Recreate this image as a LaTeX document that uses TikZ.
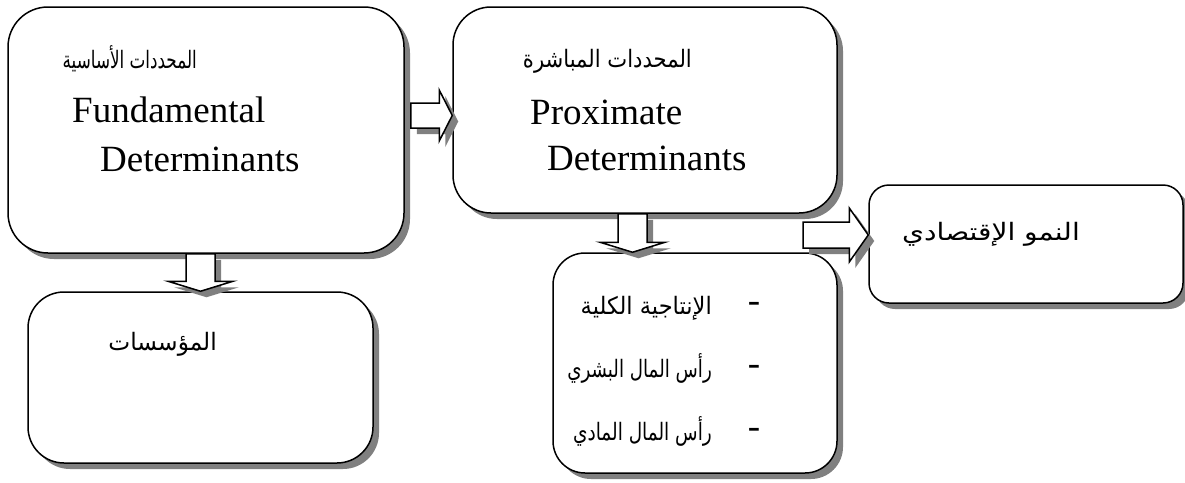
\documentclass[tikz,border=0pt]{standalone}
\usepackage{fontspec}
\setmainfont{Liberation Serif}
\newfontfamily\arabicfont[Script=Arabic]{DejaVu Sans}
\TeXXeTstate=1
\usetikzlibrary{calc,shadows}
\definecolor{shadowgray}{RGB}{128,128,128}

% horizontal block arrow: start, tip, shaft half-height, head half-height, head length
\newcommand\hblock[5]{%
  \draw[blockarrow] ($(#1)+(0,-#3)$) -- ($(#2)+(-#5,-#3)$) -- ($(#2)+(-#5,-#4)$) -- (#2)
    -- ($(#2)+(-#5,#4)$) -- ($(#2)+(-#5,#3)$) -- ($(#1)+(0,#3)$) -- cycle;}
% downward block arrow: start, tip, shaft half-width, head half-width, head length
\newcommand\vblock[5]{%
  \draw[blockarrow] ($(#1)+(-#3,0)$) -- ($(#2)+(-#3,-#5)$) -- ($(#2)+(-#4,-#5)$) -- (#2)
    -- ($(#2)+(#4,-#5)$) -- ($(#2)+(#3,-#5)$) -- ($(#1)+(#3,0)$) -- cycle;}

\tikzset{
  shade6/.style={drop shadow={shadow xshift=6pt, shadow yshift=-6pt, fill=shadowgray, opacity=1}},
  box/.style={draw, line width=1.5pt, fill=white, inner sep=0pt, rounded corners=#1, shade6},
  blockarrow/.style={draw, line width=1.5pt, fill=white, line join=miter, shade6},
  lat/.style={font=\fontsize{37}{40}\selectfont, inner sep=0pt},
  ar/.style={font=\arabicfont\fontsize{24}{28}\selectfont, inner sep=0pt},
  dashmark/.style={font=\fontsize{37}{40}\selectfont, inner sep=0pt},
}

\begin{document}
\begin{tikzpicture}[x=1pt, y=-1pt]
\useasboundingbox (0,0) rectangle (1185,482);

% boxes
\node[box=40pt, minimum width=396pt, minimum height=246pt] (A) at (206,130) {};
\node[box=38pt, minimum width=384pt, minimum height=206pt] (B) at (645,110) {};
\node[box=36pt, minimum width=345pt, minimum height=171pt] (C) at (200.5,377.5) {};
\node[box=32pt, minimum width=284pt, minimum height=220pt] (D) at (695,363) {};
\node[box=20pt, minimum width=314pt, minimum height=118pt] (E) at (1026,244) {};

% arrows
\coordinate (ab-s) at ($(A.east)+(6,-14.5)$);
\coordinate (ab-t) at ($(B.west)+(0,5.5)$);
\hblock{ab-s}{ab-t}{12.5}{25.5}{13}

\coordinate (ac-s) at ($(A.south)+(-5.5,0)$);
\coordinate (ac-t) at (C.north);
\vblock{ac-s}{ac-t}{14.5}{32.5}{10}

\coordinate (bd-s) at ($(B.south)+(-12.5,0)$);
\coordinate (bd-t) at ($(D.north)+(-62.5,0)$);
\vblock{bd-s}{bd-t}{14.5}{32.5}{10}

\coordinate (de-s) at (803,235);
\coordinate (de-t) at ($(E.west)+(0,-9)$);
\hblock{de-s}{de-t}{13}{27}{19}

% texts of box A
\node[ar, anchor=base east] (a1) at (197,68) {\scalebox{0.7}[1]{\beginR المحددات الأساسية\endR}};
\node[lat, anchor=base west] (a2) at (72,122) {Fundamental};
\node[lat, anchor=base west] (a3) at (100,171) {Determinants};

% texts of box B
\node[ar, anchor=base east] (b1) at (692,67) {\scalebox{0.88}[1]{\beginR المحددات المباشرة\endR}};
\node[lat, anchor=base west] (b2) at (530,124) {Proximate};
\node[lat, anchor=base west] (b3) at (547,170) {Determinants};

% text of box C
\node[ar, anchor=base east] (c1) at (217,350) {\scalebox{0.97}[1]{\beginR المؤسسات\endR}};

% list in box D
\node[ar, anchor=base east] (d1) at (712,314) {\scalebox{0.94}[1]{\beginR الإنتاجية الكلية\endR}};
\node[ar, anchor=base east] (d2) at (712,377) {\scalebox{0.76}[1]{\beginR رأس المال البشري\endR}};
\node[ar, anchor=base east] (d3) at (712,440) {\scalebox{0.77}[1]{\beginR رأس المال المادي\endR}};
\node[dashmark] (m1) at (754,307) {-};
\node[dashmark] (m2) at (754,370) {-};
\node[dashmark] (m3) at (754,433) {-};

% text of box E
\node[ar, anchor=base east] (e1) at (1080,240) {\scalebox{1.17}[1]{\beginR النمو الإقتصادي\endR}};
\end{tikzpicture}
\end{document}
